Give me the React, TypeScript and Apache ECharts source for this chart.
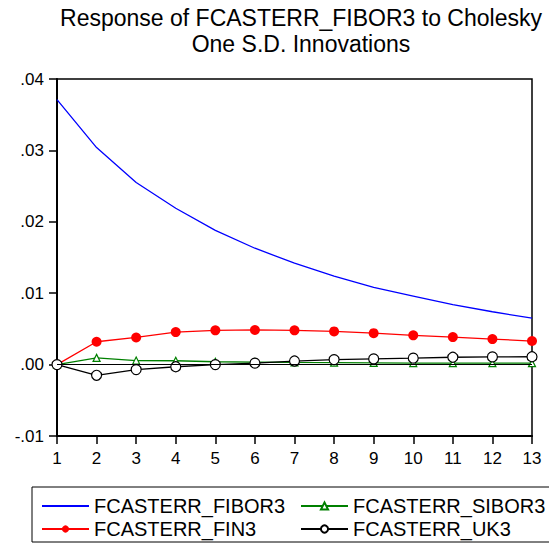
import { useEffect, useRef } from 'react'
import * as echarts from 'echarts'

const periods = ['1', '2', '3', '4', '5', '6', '7', '8', '9', '10', '11', '12', '13']

const fibor3 = [0.0371, 0.0304, 0.0255, 0.0219, 0.0188, 0.0163, 0.0142, 0.0124, 0.0108, 0.0096, 0.0084, 0.0074, 0.0065]
const fin3 = [0.0, 0.0032, 0.0038, 0.00455, 0.0048, 0.00485, 0.0048, 0.00465, 0.0044, 0.0041, 0.00385, 0.00357, 0.0033]
const sibor3 = [0.0, 0.00094, 0.00056, 0.00054, 0.0004, 0.00035, 0.0003, 0.00027, 0.00024, 0.00022, 0.0002, 0.0002, 0.0002]
const uk3 = [0.0, -0.0015, -0.0007, -0.0003, 0.0, 0.0002, 0.0005, 0.0007, 0.0008, 0.0009, 0.00103, 0.00108, 0.0011]

const font = "'Liberation Sans', Arial, Helvetica, sans-serif"

const fmtTick = (v: number) => v.toFixed(2).replace('0.', '.')

export default function App() {
  const containerRef = useRef<HTMLDivElement>(null)

  useEffect(() => {
    if (!containerRef.current) return
    const chart = echarts.init(containerRef.current, null, { renderer: 'svg' })

    const legendCommon = {
      orient: 'vertical',
      itemWidth: 47,
      itemHeight: 9,
      itemGap: 3,
      itemTextGap: 8,
      padding: 0,
      textStyle: { fontFamily: font, fontSize: 20, color: '#000' },
      selectedMode: false,
    }

    const option = {
      animation: false,
      backgroundColor: '#fff',
      textStyle: { fontFamily: font },
      title: {
        text: 'Response of FCASTERR_FIBOR3 to Cholesky\nOne S.D. Innovations',
        left: 296,
        top: 0,
        textAlign: 'center',
        textStyle: { fontFamily: font, fontSize: 23, fontWeight: 'normal', color: '#000', lineHeight: 26 },
      },
      grid: { left: 57, right: 17, top: 79, bottom: 108, show: true, borderColor: '#000', borderWidth: 1.5 },
      xAxis: {
        type: 'category',
        data: periods,
        boundaryGap: false,
        axisLine: { onZero: false, lineStyle: { color: '#000', width: 2 } },
        axisTick: { alignWithLabel: true, length: 8, lineStyle: { color: '#000', width: 1.5 } },
        axisLabel: { color: '#000', fontSize: 17, fontFamily: font, margin: 14 },
        splitLine: { show: false },
      },
      yAxis: {
        type: 'value',
        min: -0.01,
        max: 0.04,
        interval: 0.01,
        axisLine: { show: true, lineStyle: { color: '#000', width: 2 } },
        axisTick: { show: true, length: 8, lineStyle: { color: '#000', width: 1.5 } },
        axisLabel: { color: '#000', fontSize: 17, fontFamily: font, margin: 13, formatter: fmtTick },
        splitLine: { show: false },
      },
      legend: [
        {
          ...legendCommon,
          left: 41,
          top: 496,
          data: [{ name: 'FCASTERR_FIBOR3', itemStyle: { opacity: 0 } }, 'FCASTERR_FIN3'],
        },
        { ...legendCommon, left: 300, top: 496, data: ['FCASTERR_SIBOR3', 'FCASTERR_UK3'] },
      ],
      graphic: [
        {
          type: 'rect',
          shape: { x: 32, y: 487, width: 540, height: 55 },
          style: { fill: 'none', stroke: '#000', lineWidth: 1 },
          silent: true,
        },
      ],
      series: [
        {
          name: 'FCASTERR_FIBOR3',
          type: 'line',
          data: fibor3,
          symbol: 'none',
          lineStyle: { color: '#0000ff', width: 1.3 },
          itemStyle: { color: '#0000ff' },
          markLine: {
            silent: true,
            symbol: 'none',
            label: { show: false },
            lineStyle: { color: '#000', width: 1, type: 'solid' },
            data: [{ yAxis: 0 }],
          },
        },
        {
          name: 'FCASTERR_FIN3',
          type: 'line',
          data: fin3,
          symbol: 'circle',
          symbolSize: 10,
          lineStyle: { color: '#ff0000', width: 1.3 },
          itemStyle: { color: '#ff0000', borderWidth: 0 },
        },
        {
          name: 'FCASTERR_SIBOR3',
          type: 'line',
          data: sibor3,
          symbol: 'triangle',
          symbolSize: 7,
          lineStyle: { color: '#008000', width: 1.3 },
          itemStyle: { color: '#ffffff', borderColor: '#008000', borderWidth: 1.2 },
        },
        {
          name: 'FCASTERR_UK3',
          type: 'line',
          data: uk3,
          symbol: 'circle',
          symbolSize: 10,
          lineStyle: { color: '#000000', width: 1.3 },
          itemStyle: { color: '#ffffff', borderColor: '#000000', borderWidth: 1.2 },
        },
      ],
    }

    chart.setOption(option)

    const handleResize = () => chart.resize()
    window.addEventListener('resize', handleResize)

    return () => {
      window.removeEventListener('resize', handleResize)
      chart.dispose()
    }
  }, [])

  return (
    <div
      ref={containerRef}
      style={{ position: 'absolute', left: 0, top: 0, width: '549px', height: '544px' }}
    />
  )
}
